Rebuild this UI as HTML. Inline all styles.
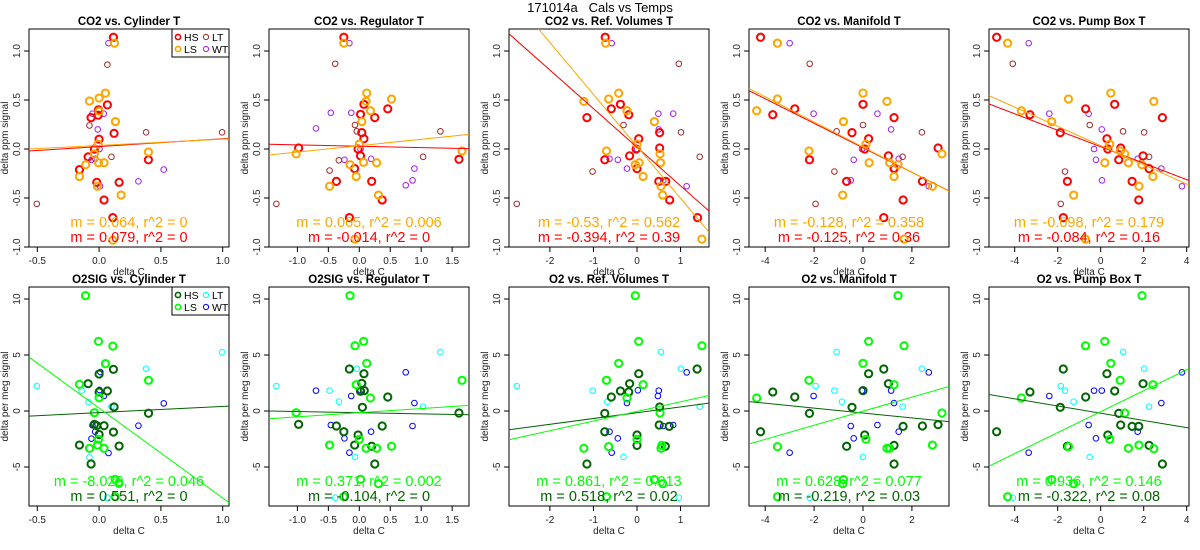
<!DOCTYPE html>
<html><head><meta charset="utf-8"><style>
body{margin:0;background:#fff;}
svg{display:block;font-family:"Liberation Sans",sans-serif;}
</style></head><body>
<svg id="chart" width="1200" height="550" viewBox="0 0 1200 550">
<text x="600" y="12" font-size="13" text-anchor="middle" style="white-space:pre">171014a   Cals vs Temps</text>
</svg>
<script>
// ---------- data ----------
const yTicksCO2 = [-1.0, -0.5, 0.0, 0.5, 1.0];
const yTicksO2 = [-5, 0, 5, 10];
const xTicksCyl = [-0.5, 0.0, 0.5, 1.0];
const xTicksReg = [-1.0, -0.5, 0.0, 0.5, 1.0, 1.5];
const xTicksRef = [-2, -1, 0, 1];
const xTicksMan = [-4, -2, 0, 2];
const xTicksPump = [-4, -2, 0, 2, 4];

const cylCO2_HS = [[.116,1.14],[-.005,.40],[.067,.45],[-.065,.32],[-.008,.345],[.121,.16],[0,.10],[-.038,0],[-.089,-.08],[-.159,-.21],[-.019,-.34],[.162,-.34],[.399,-.11],[.040,-.52],[.111,-.70]];
const cylCO2_LS = [[.124,1.08],[.051,.57],[-.078,.49],[0,.52],[0,.385],[.132,.28],[-.008,.05],[-.038,-.05],[-.108,-.16],[-.159,-.28],[-.005,-.14],[.04,-.14],[.399,-.03],[-.013,-.38],[.178,-.47],[.111,-.93]];
const cylCO2_LT = [[.067,.86],[-.078,.24],[.38,.17],[.995,.17],[.1,-.08],[-.504,-.56]];
const cylCO2_WT = [[.076,1.08],[-.054,.36],[.038,.36],[-.011,.20],[.003,0],[-.032,-.1],[-.062,-.11],[.523,-.21],[.318,-.33],[.008,-.38]];

const regCO2_HS = [[-.25,1.14],[.075,.456],[.02,.354],[.25,.32],[.46,.41],[.04,.167],[.075,.105],[-.98,.01],[-.02,0],[.02,-.07],[-.075,-.2],[-.37,-.33],[.2,-.33],[.37,-.52],[1.61,-.105],[-.16,-.70]];
const regCO2_LS = [[-.25,1.08],[.12,.57],[.11,.486],[.52,.51],[.18,.39],[.04,.28],[0,.05],[-1.02,-.05],[.07,-.136],[.28,-.14],[-.15,-.16],[-.05,-.28],[-.48,-.38],[.31,-.47],[1.66,-.02],[-.07,-.92]];
const regCO2_LT = [[-.39,.87],[-.07,.245],[-.04,.18],[1.31,.18],[-.33,-.115],[1.03,-.08],[-.48,-.22],[-1.34,-.56]];
const regCO2_WT = [[-.16,1.08],[-.46,.37],[-.13,.37],[-.7,.21],[.02,0],[-.24,-.11],[.19,-.1],[.89,-.2],[.86,-.32],[.75,-.37]];

const refCO2_HS = [[-.73,1.14],[-.59,.41],[-.38,.456],[-.19,.35],[-1.15,.32],[.04,.105],[-.02,0],[.52,.167],[.52,.01],[-.17,-.07],[-.74,-.11],[0,-.2],[.5,-.33],[.66,-.33],[.75,-.52],[1.39,-.70]];
const refCO2_LS = [[-.72,1.08],[-.42,.57],[-.65,.51],[-1.22,.486],[-.23,.39],[.4,.28],[0,.05],[-.7,-.02],[.53,-.05],[.05,-.14],[.54,-.14],[-.04,-.16],[.14,-.28],[.55,-.38],[.59,-.47],[1.49,-.92]];
const refCO2_LT = [[.96,.87],[-.31,.245],[1.01,.17],[1.44,-.08],[-1.02,-.23],[-2.76,-.56]];
const refCO2_WT = [[-.58,1.08],[.49,.36],[.83,.36],[.5,.2],[0,0],[-.63,-.1],[-.44,-.11],[-.23,-.2],[.6,-.32],[1.14,-.38]];

const manCO2_HS = [[-4.19,1.14],[-2.79,.41],[-3.69,.35],[0,.456],[1.27,.32],[-.45,.167],[.23,.105],[.07,0],[1.04,-.07],[-2.19,-.11],[1.27,-.2],[-.67,-.33],[2.43,-.33],[1.64,-.52],[3.07,.01],[.85,-.70]];
const manCO2_LS = [[-3.5,1.08],[0,.57],[-3.5,.51],[-4.35,.39],[.98,.486],[-.8,.28],[.12,.05],[-2.21,-.02],[3.23,-.05],[.25,-.14],[1.09,-.14],[1.43,-.16],[1.27,-.28],[2.84,-.38],[-.83,-.47],[1.68,-.92]];
const manCO2_LT = [[-2.18,.87],[-1.08,.18],[0,.245],[2.41,.17],[1.62,-.08],[-1.17,-.23],[-1.94,-.56]];
const manCO2_WT = [[-3,1.08],[-2.02,.36],[.59,.36],[1.15,.2],[-.04,0],[-.38,-.11],[1.46,-.1],[1.27,-.2],[-.5,-.32],[2.69,-.38]];

const pumpCO2_HS = [[-4.84,1.14],[-3.29,.35],[-.7,.41],[.65,.456],[2.87,.32],[-1.88,.167],[.29,.105],[.33,0],[.93,.01],[.84,-.11],[1.97,-.07],[2.25,-.2],[-1.55,-.33],[1.46,-.33],[1.77,-.52],[-1.74,-.70]];
const pumpCO2_LS = [[-4.33,1.08],[.47,.57],[-1.5,.51],[-3.69,.39],[2.47,.486],[-2.28,.28],[.42,.05],[.91,-.02],[1.12,-.05],[.19,-.14],[1.29,-.14],[1.91,-.16],[2.43,-.28],[1.78,-.38],[-1.26,-.47],[-.71,-.92]];
const pumpCO2_LT = [[-4.09,.87],[-.51,.245],[1.04,.18],[2.02,.17],[2.25,-.08],[-1.66,-.23],[-1.86,-.56]];
const pumpCO2_WT = [[-3.35,1.08],[-2.39,.36],[-.56,.36],[.05,.2],[-.31,0],[-.22,-.11],[1.72,-.1],[2.82,-.2],[.06,-.32],[3.78,-.38]];

const cylO2_HS = [[.116,3.72],[0,3.3],[-.089,2.44],[.067,1.79],[0,1.7],[.121,.36],[.4,-.2],[-.038,-1.19],[-.019,-1.31],[.04,-1.31],[.116,-1.88],[0,-2.1],[-.159,-3.04],[.162,-3.13],[-.065,-4.73]];
const cylO2_LS = [[-.11,10.3],[-.005,6.22],[.111,5.8],[.051,4.23],[-.159,2.38],[0,1.19],[-.038,-.15],[.4,2.74],[-.005,-2.53],[-.013,-3.04],[.04,-3.33],[-.078,-3.33],[.13,-6.1],[.16,-6.46],[.13,-7.65]];
const cylO2_LT = [[-.504,2.23],[.38,3.78],[.995,5.24],[-.141,1.82],[-.086,.8],[.1,.39],[-.078,-4.14],[.067,-7.74]];
const cylO2_WT = [[.01,3.48],[.038,1.34],[.003,1.88],[-.054,-1.28],[-.032,-1.85],[-.062,-2.47],[.523,.68],[.318,-1.31],[.076,-3.75]];

const regO2_HS = [[-.16,3.75],[.075,3.33],[.04,2.47],[.08,1.82],[.02,1.76],[.46,1.25],[.05,.33],[-.98,-1.19],[-.37,-1.34],[.37,-1.34],[-.25,-1.85],[-.02,-2.14],[-.075,-3.04],[.2,-3.15],[.25,-4.73],[1.61,-.18]];
const regO2_LS = [[-.15,10.3],[.07,6.22],[-.07,5.83],[.12,4.26],[-.05,2.35],[.18,1.16],[-1.02,-.15],[1.66,2.74],[0,-2.53],[-.48,-3.04],[.11,-3.33],[.28,-3.33],[.52,-3.15],[.31,-6.49],[-.25,-7.65],[.02,-6.1]];
const regO2_LT = [[-1.34,2.23],[1.31,5.27],[-.04,3.78],[-.48,1.82],[-.33,.83],[1.03,.39],[-.07,-4.1],[-.39,-7.74]];
const regO2_WT = [[-.7,1.82],[.02,1.85],[-.13,1.34],[.75,3.45],[.89,.71],[-.46,-1.25],[.19,-1.85],[-.24,-2.44],[.86,-1.34],[-.16,-3.72]];

const refO2_HS = [[-1.15,-4.73],[1.38,3.75],[.04,3.33],[-.17,2.44],[-.38,1.79],[-.19,1.7],[-.59,1.25],[.52,.36],[-.74,-.21],[.51,-1.25],[.74,-1.37],[-.74,-1.85],[0,-2.14],[0,-3.07],[.65,-3.15]];
const refO2_LS = [[-.04,10.3],[.04,6.22],[1.49,5.83],[-.42,4.26],[-.7,2.74],[.14,2.35],[-.23,1.16],[.53,-.18],[0,-2.53],[-1.22,-3.33],[-.65,-3.18],[.55,-3.33],[.57,-3.07],[.59,-6.49],[.4,-6.13],[-.7,-7.65]];
const refO2_LT = [[-2.76,2.23],[.55,5.27],[1.01,3.78],[-1.02,1.82],[-.68,.83],[1.44,.39],[-.31,-4.1],[.96,-7.74]];
const refO2_WT = [[.5,1.82],[.02,1.85],[.48,1.34],[1.14,3.45],[-.23,.71],[-.63,-1.85],[-.44,-2.44],[.6,-1.34],[.83,-1.25],[-.58,-3.72]];

const manO2_HS = [[-4.19,-1.85],[-3.69,1.7],[-2.79,1.25],[-2.19,-.21],[-.45,.33],[0,1.82],[.23,3.33],[.85,3.75],[1.04,2.44],[.07,-2.14],[-.67,-3.15],[1.27,-3.07],[1.27,-4.73],[1.64,-1.37],[2.43,-1.34],[3.07,-1.22]];
const manO2_LS = [[1.43,10.3],[.23,6.22],[1.68,5.83],[0,4.26],[-2.21,2.74],[1.27,2.35],[-4.35,1.16],[3.23,-.18],[.12,-2.53],[-3.5,-3.18],[.98,-3.33],[1.09,-3.33],[2.84,-3.04],[-.8,-6.13],[-.83,-6.49],[-3.5,-7.65]];
const manO2_LT = [[-1.94,2.23],[-1.08,5.27],[2.41,3.78],[-1.17,1.82],[-.86,.83],[1.62,.39],[0,-4.1],[-2.18,-7.74]];
const manO2_WT = [[-2.02,1.34],[-.04,1.82],[1.15,1.82],[2.69,3.45],[1.27,.71],[-.5,-1.34],[.59,-1.25],[-.38,-2.44],[1.46,-1.85],[-3,-3.72]];

const pumpO2_HS = [[-4.84,-1.85],[-3.29,1.7],[-1.88,.33],[-1.74,3.75],[-1.55,-3.15],[-.7,1.25],[.29,3.33],[.65,1.79],[.84,-.21],[.93,-1.25],[.33,-2.14],[1.46,-1.37],[1.77,-1.37],[1.97,2.44],[2.25,-3.07],[2.87,-4.73]];
const pumpO2_LS = [[1.92,10.3],[.19,6.22],[-.71,5.83],[.47,4.26],[.91,2.74],[2.43,2.35],[-3.69,1.16],[1.12,-.18],[.42,-2.53],[-1.5,-3.18],[1.29,-3.33],[1.78,-3.04],[2.47,-3.36],[-2.28,-6.13],[-1.26,-6.49],[-4.33,-7.65]];
const pumpO2_LT = [[-4.09,-7.74],[-1.86,2.23],[1.04,5.27],[2.02,3.78],[-1.66,1.82],[-1.26,.83],[2.25,.39],[-.51,-4.1]];
const pumpO2_WT = [[-3.35,-3.72],[-2.39,1.34],[-.31,1.82],[.05,1.82],[-.56,-1.25],[-.22,-2.44],[1.72,-1.85],[2.82,.71],[3.78,3.45]];

// regression lines [slope, intercept] : LS first (upper text), HS second
const fitSlopesLS = [0.064, 0.065, -0.53, -0.128, -0.098, -8.029, 0.371, 0.861, 0.628, 0.936];
const fitInterLS  = [0.036, 0.034, 0.027, 0.02, 0.035, 0.26, -0.15, -0.04, -0.02, -0.06];
const fitSlopesHS = [0.079, -0.014, -0.394, -0.125, -0.084, 0.551, -0.104, 0.518, -0.219, -0.322];
const fitInterHS  = [0.025, 0.028, 0.018, 0.012, 0.023, -0.14, -0.15, -0.15, -0.18, -0.2];
const fitTextLS = ["m = 0.064, r^2 = 0","m = 0.065, r^2 = 0.006","m = -0.53, r^2 = 0.562","m = -0.128, r^2 = 0.358","m = -0.098, r^2 = 0.179","m = -8.029, r^2 = 0.046","m = 0.371, r^2 = 0.002","m = 0.861, r^2 = 0.013","m = 0.628, r^2 = 0.077","m = 0.936, r^2 = 0.146"];
const fitTextHS = ["m = 0.079, r^2 = 0","m = -0.014, r^2 = 0","m = -0.394, r^2 = 0.39","m = -0.125, r^2 = 0.36","m = -0.084, r^2 = 0.16","m = 0.551, r^2 = 0","m = -0.104, r^2 = 0","m = 0.518, r^2 = 0.02","m = -0.219, r^2 = 0.03","m = -0.322, r^2 = 0.08"];
const titles = ["CO2 vs. Cylinder T","CO2 vs. Regulator T","CO2 vs. Ref. Volumes T","CO2 vs. Manifold T","CO2 vs. Pump Box T","O2SIG vs. Cylinder T","O2SIG vs. Regulator T","O2 vs. Ref. Volumes T","O2 vs. Manifold T","O2 vs. Pump Box T"];

// ---------- layout ----------
const NS = "http://www.w3.org/2000/svg";
const svg = document.getElementById('chart');
function mk(tag, attrs, parent){ const e=document.createElementNS(NS,tag); for(const k in attrs) e.setAttribute(k,attrs[k]); (parent||svg).appendChild(e); return e; }

const xMaps = [ {z:99.1,s:123.6,t:xTicksCyl,f:1},{z:119.3,s:61.9,t:xTicksReg,f:1},{z:157,s:43.56,t:xTicksRef,f:0},{z:143,s:24.45,t:xTicksMan,f:0},{z:140.7,s:21.5,t:xTicksPump,f:0} ];
const groupsTop = [ ['HS','#ff0000',2],['LS','#ffa500',2],['LT','#a52a2a',1],['WT','#a020f0',1] ];
const groupsBot = [ ['HS','#006400',2],['LS','#00ff00',2],['LT','#00ffff',1],['WT','#0000ff',1] ];
const dataSets = [
 [cylCO2_HS,cylCO2_LS,cylCO2_LT,cylCO2_WT],[regCO2_HS,regCO2_LS,regCO2_LT,regCO2_WT],[refCO2_HS,refCO2_LS,refCO2_LT,refCO2_WT],[manCO2_HS,manCO2_LS,manCO2_LT,manCO2_WT],[pumpCO2_HS,pumpCO2_LS,pumpCO2_LT,pumpCO2_WT],
 [cylO2_HS,cylO2_LS,cylO2_LT,cylO2_WT],[regO2_HS,regO2_LS,regO2_LT,regO2_WT],[refO2_HS,refO2_LS,refO2_LT,refO2_WT],[manO2_HS,manO2_LS,manO2_LT,manO2_WT],[pumpO2_HS,pumpO2_LS,pumpO2_LT,pumpO2_WT]];

for(let p=0;p<10;p++){
  const row = p<5?0:1, col=p%5;
  const ox = col*240;
  const L=ox+29, R=ox+229;
  const T=row?287:29, B=row?506:247;
  const xm = xMaps[col];
  const xs = v => ox + xm.z + v*xm.s;
  const ys = row ? (v => 411 - v*11.2) : (v => 149 - v*98);
  const grp = row?groupsBot:groupsTop;
  const g = mk('g',{});
  
  
  const cid='clip'+p;
  const cp=mk('clipPath',{id:cid},g); mk('rect',{x:L,y:T,width:R-L,height:B-T},cp);
  const tt=mk('text',{x:(L+R)/2,y:T-4,'font-size':11.5,'font-weight':'bold','text-anchor':'middle'},g); tt.textContent=titles[p];
  
  
  const bx=mk('rect',{x:L,y:T,width:R-L,height:B-T,fill:'none',stroke:'#000','stroke-width':1},g);
  
  
  const xt = xm.t;
  mk('line',{x1:xs(xt[0]),x2:xs(xt[xt.length-1]),y1:B,y2:B,stroke:'#000'},g);
  xt.forEach(v=>{ const x=xs(v); mk('line',{x1:x,x2:x,y1:B,y2:B+5,stroke:'#000'},g);
    const t=mk('text',{x:x,y:B+17,'font-size':10,'text-anchor':'middle',fill:'#222'},g); t.textContent=xm.f?v.toFixed(1):String(v);
    
     });
  const xl=mk('text',{x:(L+R)/2,y:B+28,'font-size':10,'text-anchor':'middle',fill:'#222'},g); xl.textContent='delta C';
  
  
  const yt = row?yTicksO2:yTicksCO2;
  mk('line',{x1:L,x2:L,y1:ys(yt[0]),y2:ys(yt[yt.length-1]),stroke:'#000'},g);
  yt.forEach(v=>{ const y=ys(v); mk('line',{x1:L-5,x2:L,y1:y,y2:y,stroke:'#000'},g);
    const t=mk('text',{x:L-9,y:y,'font-size':10,'text-anchor':'middle',fill:'#222',transform:`rotate(-90 ${L-9} ${y})`},g); t.textContent=row?String(v):v.toFixed(1);
    
     });
  const yl=mk('text',{x:L-21,y:(T+B)/2,'font-size':10,'text-anchor':'middle',fill:'#222',transform:`rotate(-90 ${L-21} ${(T+B)/2})`},g); yl.textContent=row?'delta per meg signal':'delta ppm signal';
  
  
  const pg=mk('g',{'clip-path':`url(#${cid})`},g);
  [2,3,0,1].forEach(gi=>{
    const [name,color,lw]=grp[gi];
    dataSets[p][gi].forEach(d=>{
      const c=mk('circle',{cx:xs(d[0]),cy:ys(d[1]),r:lw==2?3.6:2.8,fill:'none',stroke:color,'stroke-width':lw},pg);
      
      
    });
  });
  const x0=(L-ox-xm.z)/xm.s, x1=(R-ox-xm.z)/xm.s;
  [[fitSlopesHS[p],fitInterHS[p],grp[0][1],'fit-line-hs'],[fitSlopesLS[p],fitInterLS[p],grp[1][1],'fit-line-ls']].forEach(f=>{
    const ln=mk('line',{x1:xs(x0),y1:ys(f[1]+f[0]*x0),x2:xs(x1),y2:ys(f[1]+f[0]*x1),stroke:f[2],'stroke-width':1},pg);
    
    
  });
  const t1=mk('text',{x:(L+R)/2,y:B-20,'font-size':14.5,'text-anchor':'middle',fill:grp[1][1]},g); t1.textContent=fitTextLS[p];
  
  
  const t2=mk('text',{x:(L+R)/2,y:B-5,'font-size':14.5,'text-anchor':'middle',fill:grp[0][1]},g); t2.textContent=fitTextHS[p];
  
  
  if(col===0){
    const lg=mk('g',{},g);
    
    
    mk('rect',{x:R-57,y:T,width:57,height:28,fill:'#fff',stroke:'#000'},lg);
    grp.forEach((gr,i)=>{
      const cx = R-51 + (i>=2?28:0), cy = T+8 + (i%2)*12;
      mk('circle',{cx:cx,cy:cy,r:2.6,fill:'none',stroke:gr[1],'stroke-width':gr[2]==2?1.6:1},lg);
      const lt=mk('text',{x:cx+6,y:cy+4,'font-size':10.5},lg); lt.textContent=gr[0];
      
      
    });
  }
}
</script>
</body></html>
